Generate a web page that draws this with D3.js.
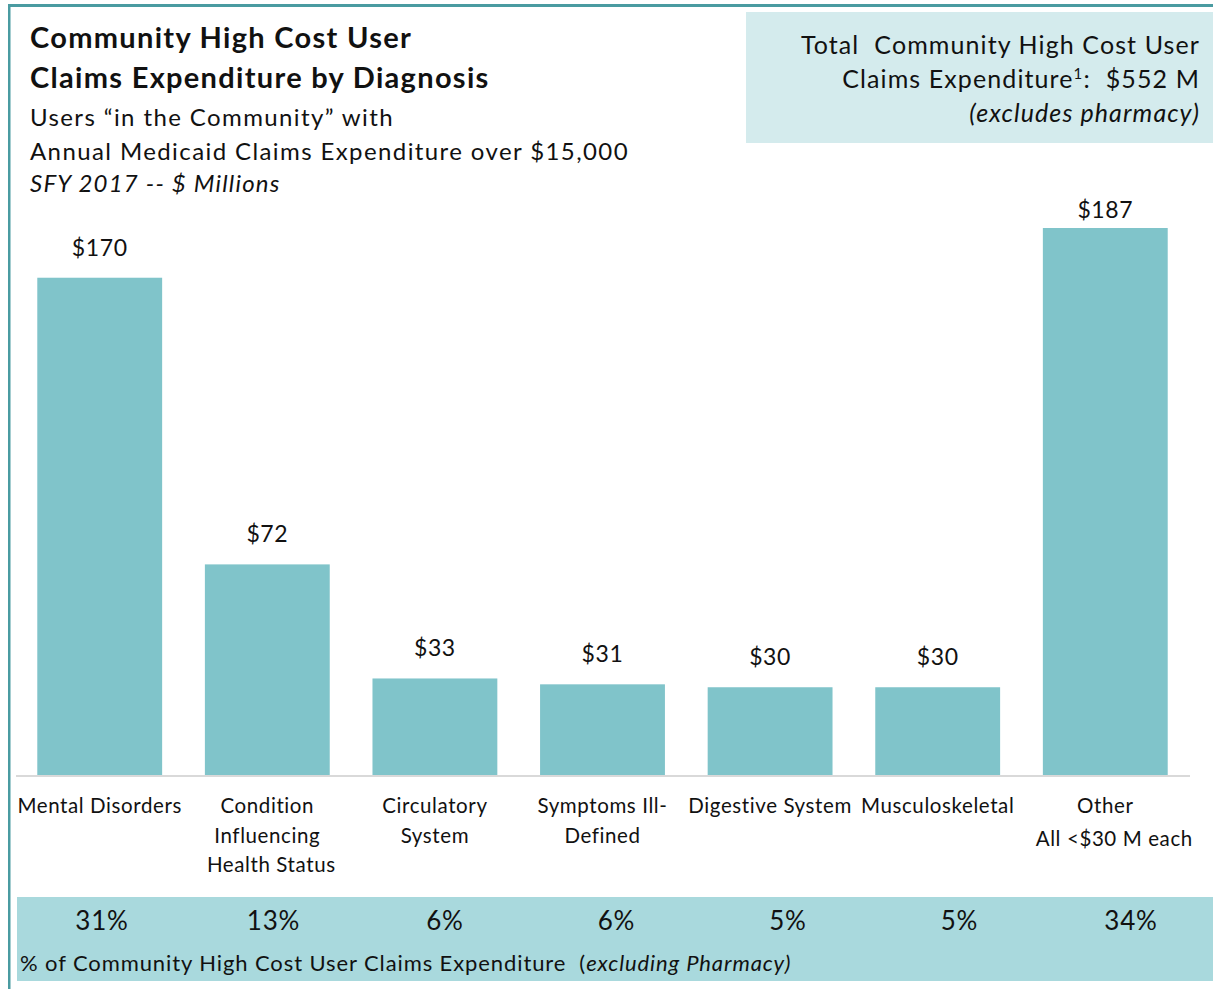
<!DOCTYPE html>
<html>
<head>
<meta charset="utf-8">
<script src="https://cdn.jsdelivr.net/npm/d3@7"></script>
<style>
  html, body { margin: 0; padding: 0; background: #fff; }
  svg { display: block; font-family: Lato, "Open Sans", sans-serif; }
</style>
</head>
<body>
<svg id="chart" width="1213" height="989"></svg>
<script>
// Diagnosis categories (multi-line labels) and their expenditure, $ millions
const categories = [
  ["Mental Disorders"],
  ["Condition", "Influencing", "Health Status"],
  ["Circulatory", "System"],
  ["Symptoms Ill-", "Defined"],
  ["Digestive System"],
  ["Musculoskeletal"],
  ["Other", "All <$30 M each"]
];
const expenditure = [170, 72, 33, 31, 30, 30, 187];
const shareOfTotal = ["31%", "13%", "6%", "6%", "5%", "5%", "34%"];
const totalExpenditure = 552; // reported total, $ millions

const titleLines = ["Community High Cost User", "Claims Expenditure by Diagnosis"];
const subtitleLines = ["Users \u201cin the Community\u201d with", "Annual Medicaid Claims Expenditure over $15,000"];
const periodLine = "SFY 2017 -- $ Millions";

const svg = d3.select("#chart");
const W = 1213, H = 989;

const teal = "#4a9ba1";
const barColor = "#80c4ca";
const bandColor = "#a9d9dd";
const boxColor = "#d4ebed";

// Frame: top rule and left rule
svg.append("rect").attr("x", 8).attr("y", 4).attr("width", W - 8).attr("height", 3).attr("fill", teal);
svg.append("rect").attr("x", 8).attr("y", 4).attr("width", 2.5).attr("height", H - 4).attr("fill", teal);

// Title block
const title = svg.append("text").attr("x", 30).attr("font-weight", "bold").attr("font-size", 29)
  .attr("letter-spacing", 1.3).attr("fill", "#111");
titleLines.forEach((t, i) => title.append("tspan").attr("x", 30).attr("y", 48 + i * 40).text(t));

const sub = svg.append("text").attr("font-size", 24).attr("letter-spacing", 1.4).attr("fill", "#111");
subtitleLines.forEach((t, i) => sub.append("tspan").attr("x", 30).attr("y", 126 + i * 34).text(t));
svg.append("text").attr("x", 30).attr("y", 192).attr("font-size", 24).attr("font-style", "italic")
  .attr("letter-spacing", 1.2).attr("fill", "#111").text(periodLine);

// Total callout box
svg.append("rect").attr("x", 746).attr("y", 12).attr("width", W - 746).attr("height", 131).attr("fill", boxColor);
const tot = svg.append("text").attr("text-anchor", "end").attr("font-size", 25)
  .attr("letter-spacing", 1.1).attr("fill", "#111");
tot.append("tspan").attr("x", 1200).attr("y", 54).text("Total\u00a0 Community High Cost User");
const l2 = tot.append("tspan").attr("x", 1200).attr("y", 88);
l2.append("tspan").text("Claims Expenditure");
l2.append("tspan").attr("font-size", 15).attr("dy", -9).text("1");
l2.append("tspan").attr("dy", 9).text(":\u00a0 $" + totalExpenditure + " M");
tot.append("tspan").attr("x", 1200).attr("y", 122).attr("font-style", "italic").text("(excludes pharmacy)");

// Scales
const baseY = 775;
const x = d3.scaleBand().domain(d3.range(categories.length)).range([16, 1189]).paddingInner(0.255).paddingOuter(0.127);
const y = d3.scaleLinear().domain([0, 187]).range([baseY, 228]);

// Bars
svg.append("g").selectAll("rect").data(expenditure).join("rect")
  .attr("x", (d, i) => x(i))
  .attr("y", d => y(d))
  .attr("width", x.bandwidth())
  .attr("height", d => baseY - y(d))
  .attr("fill", barColor);

// Baseline
svg.append("line").attr("x1", 16).attr("x2", 1190).attr("y1", baseY + 1).attr("y2", baseY + 1)
  .attr("stroke", "#d9d9d9").attr("stroke-width", 2);

// Value labels (the tallest bar's label sits closer to its bar)
const tallest = d3.max(expenditure);
svg.append("g").selectAll("text").data(expenditure).join("text")
  .attr("x", (d, i) => x(i) + x.bandwidth() / 2)
  .attr("y", d => y(d) - (d === tallest ? 10 : 22))
  .attr("text-anchor", "middle").attr("font-size", 23).attr("letter-spacing", 0.6).attr("fill", "#111")
  .text(d => "$" + d);

// Category labels
const cat = svg.append("g").selectAll("text").data(categories).join("text")
  .attr("text-anchor", "middle").attr("font-size", 20.5).attr("letter-spacing", 0.6).attr("fill", "#111");
cat.each(function (lines, i) {
  const cx = x(i) + x.bandwidth() / 2;
  const g = d3.select(this);
  lines.forEach((t, j) => {
    let dx = 0;
    if (i === 1 && j === 2) dx = 4;
    if (i === 6 && j === 1) dx = 9;
    g.append("tspan").attr("x", cx + dx)
      .attr("y", 813 + j * (i === 6 ? 33 : 29.5)).text(t);
  });
});

// Share band
svg.append("rect").attr("x", 17).attr("y", 897).attr("width", W - 17).attr("height", 84).attr("fill", bandColor);
svg.append("g").selectAll("text").data(shareOfTotal).join("text")
  .attr("x", (d, i) => 102 + i * 171.5)
  .attr("y", 930)
  .attr("text-anchor", "middle").attr("font-size", 26).attr("letter-spacing", 0.8).attr("fill", "#111")
  .text(d => d);
const foot = svg.append("text").attr("x", 20).attr("y", 971).attr("font-size", 22)
  .attr("letter-spacing", 0.9).attr("fill", "#111");
foot.append("tspan").text("% of Community High Cost User Claims Expenditure\u00a0 (");
foot.append("tspan").attr("font-style", "italic").text("excluding Pharmacy)");
</script>
</body>
</html>
